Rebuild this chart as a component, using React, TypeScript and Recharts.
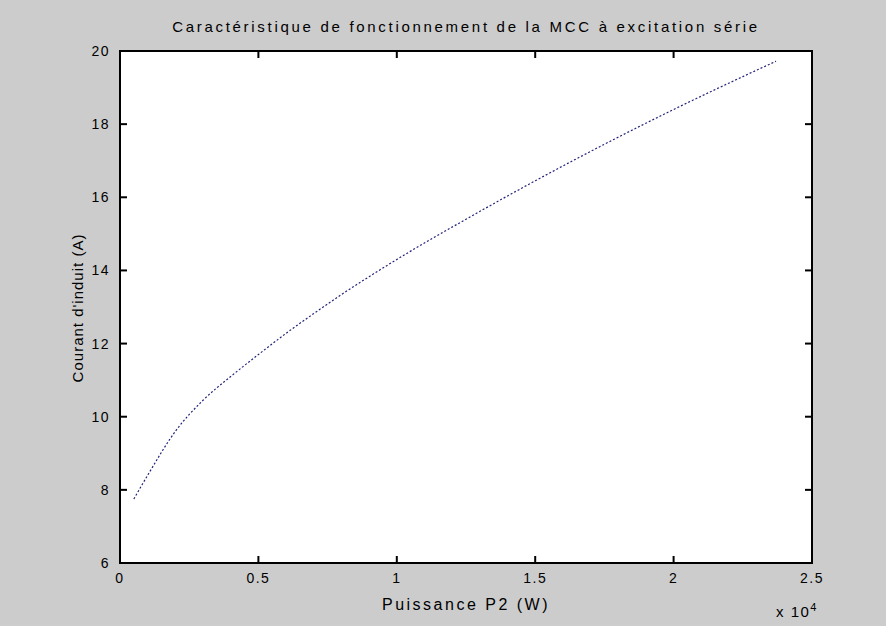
import { LineChart, Line, XAxis, YAxis, ReferenceLine } from 'recharts'

// puissance P2 en W, courant d'induit en A
const puissance = [500, 1000, 2000, 3000, 4000, 5000, 6000, 7000, 8000, 9000, 10000, 12500, 15000, 17500, 20000, 22500, 23700]
const courant = [7.75, 8.4, 9.6, 10.45, 11.1, 11.7, 12.28, 12.82, 13.34, 13.83, 14.3, 15.4, 16.45, 17.45, 18.4, 19.3, 19.72]

const xTicks = [0, 5000, 10000, 15000, 20000, 25000]
const yTicks = [6, 8, 10, 12, 14, 16, 18, 20]

const titre = 'Caractéristique de fonctionnement de la MCC à excitation série'
const labelX = 'Puissance P2 (W)'
const labelY = "Courant d'induit (A)"

const data = puissance.map((p, i) => ({ p, i: courant[i] }))

const xMin = xTicks[0]
const xMax = xTicks[xTicks.length - 1]
const yMin = yTicks[0]
const yMax = yTicks[yTicks.length - 1]

// longueur des graduations (~7 px) en unités des axes
const PLOT_W = 692
const PLOT_H = 512
const gradX = ((xMax - xMin) * 7) / PLOT_W
const gradY = ((yMax - yMin) * 7) / PLOT_H

const font = '"Liberation Sans", Arial, sans-serif'
const txt = { fill: '#000', fontSize: 14, fontFamily: font, letterSpacing: 1.5 }

const TickBas = (props: any) => (
  <text x={Number(props.x)} y={Number(props.y) + 20} textAnchor="middle" {...txt}>
    {String(props.payload.value / 10000)}
  </text>
)

const TickGauche = (props: any) => (
  <text x={Number(props.x) - 10} y={Number(props.y) + 5} textAnchor="end" {...txt}>
    {String(props.payload.value)}
  </text>
)

export default function App() {
  const grad = { xAxisId: 'bas', yAxisId: 'gauche', stroke: '#000', strokeWidth: 2, ifOverflow: 'visible' as const }
  return (
    <div
      style={{
        position: 'absolute',
        left: 0,
        top: 0,
        width: 886,
        height: 626,
        background: '#cccccc',
        fontFamily: font,
        color: '#000'
      }}
    >
      {/* cadre blanc de la zone de tracé */}
      <div
        style={{
          position: 'absolute',
          boxSizing: 'border-box',
          left: 119,
          top: 50,
          width: 694,
          height: 514,
          background: '#fff',
          border: '2px solid #000'
        }}
      />
      <div style={{ position: 'absolute', left: 0, top: 0 }}>
        <LineChart width={886} height={626} data={data} margin={{ top: 51, right: 74, left: 80, bottom: 33 }}>
          <XAxis
            xAxisId="bas"
            dataKey="p"
            type="number"
            domain={[xMin, xMax]}
            ticks={xTicks}
            interval={0}
            axisLine={false}
            tickLine={false}
            tickSize={0}
            tickMargin={0}
            tick={TickBas}
            height={30}
          />
          <YAxis
            yAxisId="gauche"
            domain={[yMin, yMax]}
            ticks={yTicks}
            interval={0}
            axisLine={false}
            tickLine={false}
            tickSize={0}
            tickMargin={0}
            tick={TickGauche}
            width={40}
          />
          {xTicks.map((v) => (
            <ReferenceLine key={'xb' + v} {...grad} segment={[{ x: v, y: yMin }, { x: v, y: yMin + gradY }]} />
          ))}
          {xTicks.map((v) => (
            <ReferenceLine key={'xh' + v} {...grad} segment={[{ x: v, y: yMax }, { x: v, y: yMax - gradY }]} />
          ))}
          {yTicks.map((v) => (
            <ReferenceLine key={'yg' + v} {...grad} segment={[{ x: xMin, y: v }, { x: xMin + gradX, y: v }]} />
          ))}
          {yTicks.map((v) => (
            <ReferenceLine key={'yd' + v} {...grad} segment={[{ x: xMax, y: v }, { x: xMax - gradX, y: v }]} />
          ))}
          <Line
            xAxisId="bas"
            yAxisId="gauche"
            type="monotone"
            dataKey="i"
            stroke="#22227a"
            strokeWidth={1.2}
            strokeDasharray="2 2"
            dot={false}
            isAnimationActive={false}
          />
        </LineChart>
      </div>
      <div
        style={{
          position: 'absolute',
          left: 120,
          width: 692,
          top: 18,
          textAlign: 'center',
          fontSize: 15,
          letterSpacing: 2.7,
          whiteSpace: 'nowrap'
        }}
      >
        {titre}
      </div>
      <div
        style={{
          position: 'absolute',
          left: 120,
          width: 692,
          top: 596,
          textAlign: 'center',
          fontSize: 16,
          letterSpacing: 2.5,
          whiteSpace: 'nowrap'
        }}
      >
        {labelX}
      </div>
      <div
        style={{
          position: 'absolute',
          left: 77,
          top: 308,
          transform: 'translate(-50%, -50%) rotate(-90deg)',
          fontSize: 15,
          letterSpacing: 1,
          whiteSpace: 'nowrap'
        }}
      >
        {labelY}
      </div>
      <div style={{ position: 'absolute', left: 776, top: 601, fontSize: 15, letterSpacing: 1.5, whiteSpace: 'nowrap' }}>
        x 10<sup style={{ fontSize: 11 }}>4</sup>
      </div>
    </div>
  )
}
